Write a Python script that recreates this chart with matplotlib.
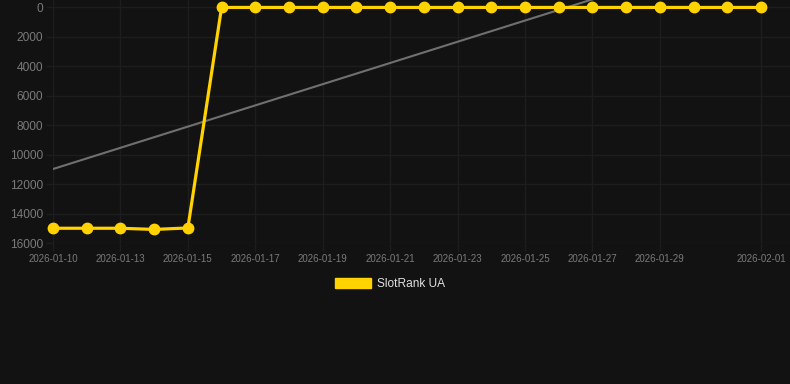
import numpy as np
import matplotlib.pyplot as plt

dates = ["2026-01-10", "2026-01-12", "2026-01-13", "2026-01-14", "2026-01-15",
         "2026-01-16", "2026-01-17", "2026-01-18", "2026-01-19", "2026-01-20",
         "2026-01-21", "2026-01-22", "2026-01-23", "2026-01-24", "2026-01-25",
         "2026-01-26", "2026-01-27", "2026-01-28", "2026-01-29", "2026-01-30",
         "2026-01-31", "2026-02-01"]
rank = [15000, 15000, 15000, 15080, 14980,
        30, 30, 30, 30, 30, 30, 30, 30, 30, 30, 30, 30, 30, 30, 30, 30, 30]
shown_labels = ["2026-01-10", "2026-01-13", "2026-01-15", "2026-01-17", "2026-01-19",
                "2026-01-21", "2026-01-23", "2026-01-25", "2026-01-27", "2026-01-29",
                "2026-02-01"]
y_ticks = [0, 2000, 4000, 6000, 8000, 10000, 12000, 14000, 16000]

bg = "#121212"
grid = "#1d1d1d"
txt = "#7a7a7a"
yellow = "#ffd200"

plt.rcParams["font.family"] = ["Liberation Sans", "DejaVu Sans"]

x = np.arange(len(dates))
a, b = np.polyfit(x, rank, deg=1)
trend = a * x + b

fig = plt.figure(figsize=(7.9, 3.84), dpi=100, facecolor=bg)
ax = fig.add_axes([53 / 790, 1 - 243 / 384, 1 - 53 / 790, 243 / 384])
ax.set_facecolor(bg)

ax.plot(x, trend, color="#707070", lw=1.5, zorder=2)
ax.plot(x, rank, color=yellow, lw=2.3, marker="o", ms=7.5, zorder=3,
        label="SlotRank UA", clip_on=False)

ax.set_xlim(0, 21.86)
ax.set_ylim(16000, -475)
ax.set_yticks(y_ticks)
ax.set_yticklabels([str(v) for v in y_ticks], fontsize=8.6, color=txt)
tick_pos = [dates.index(d) for d in shown_labels]
ax.set_xticks(tick_pos)
ax.set_xticklabels(shown_labels, fontsize=7.0, color=txt)

ax.grid(True, color=grid, lw=1)
ax.tick_params(axis="x", colors=grid, length=6, width=1, pad=2, labelcolor=txt)
ax.tick_params(axis="y", colors=grid, length=5, width=1, pad=2, labelcolor=txt)
for s in ax.spines.values():
    s.set_visible(False)

leg = fig.legend(handles=[plt.Rectangle((0, 0), 1, 1, color=yellow)],
                 labels=["SlotRank UA"], loc="center", bbox_to_anchor=(390 / 790, 1 - 284 / 384),
                 frameon=False, fontsize=8.6, handlelength=3.0, handleheight=0.85,
                 handletextpad=0.5, labelcolor="#e0e0e0")

fig.savefig("out.png", dpi=100, facecolor=bg)
